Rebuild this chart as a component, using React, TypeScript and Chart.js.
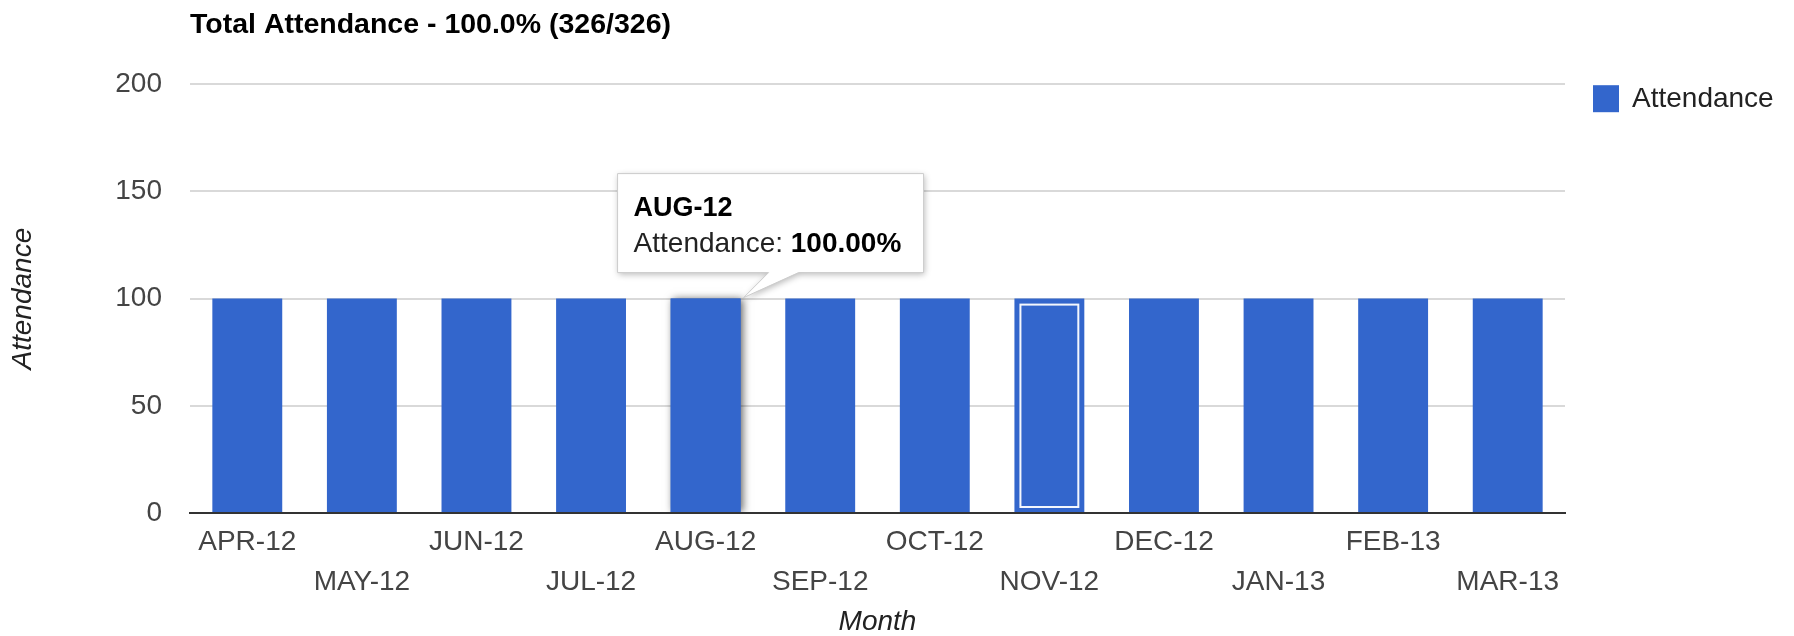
import React, { useEffect, useRef } from 'react';
import { Chart, registerables } from 'chart.js';

Chart.register(...registerables);

const months = ['APR-12', 'MAY-12', 'JUN-12', 'JUL-12', 'AUG-12', 'SEP-12', 'OCT-12', 'NOV-12', 'DEC-12', 'JAN-13', 'FEB-13', 'MAR-13'];
const attendance = [100, 100, 100, 100, 100, 100, 100, 100, 100, 100, 100, 100];
const yTicks = [0, 50, 100, 150, 200];
const seriesLabel = 'Attendance';
const chartTitle = 'Total Attendance - 100.0% (326/326)';
const xTitle = 'Month';
const yTitle = 'Attendance';
const hoverIndex = 4;
const selectedIndex = 7;

const FONT = "'Liberation Sans', Arial, Helvetica, sans-serif";
const BAR = '#3366cc';

function barProps(chart: any, index: number) {
  const el = chart.getDatasetMeta(0).data[index];
  return el.getProps(['x', 'y', 'width', 'base'], true);
}

const hoverShadowPlugin = {
  id: 'hoverShadow',
  beforeDatasetsDraw(chart: any) {
    const { ctx, chartArea } = chart;
    const { x, y, width, base } = barProps(chart, hoverIndex);
    ctx.save();
    ctx.beginPath();
    ctx.rect(chartArea.left, 0, chartArea.right - chartArea.left, chartArea.bottom);
    ctx.clip();
    ctx.shadowColor = 'rgba(0,0,0,0.6)';
    ctx.shadowBlur = 8;
    ctx.shadowOffsetX = 2;
    ctx.shadowOffsetY = 0;
    ctx.fillStyle = BAR;
    ctx.fillRect(x - width / 2, y, width, base - y);
    ctx.restore();
  },
};

const selectedPlugin = {
  id: 'selectedBar',
  afterDatasetsDraw(chart: any) {
    const { ctx } = chart;
    const { x, y, width, base } = barProps(chart, selectedIndex);
    ctx.save();
    ctx.strokeStyle = 'rgba(255,255,255,0.95)';
    ctx.lineWidth = 2;
    ctx.strokeRect(x - width / 2 + 6, y + 6, width - 12, base - y - 11);
    ctx.restore();
  },
};

const sideLegendPlugin = {
  id: 'sideLegend',
  afterDraw(chart: any) {
    const { ctx, chartArea } = chart;
    const ds = chart.data.datasets[0];
    const x = chartArea.right + 28;
    const y = chartArea.top + 1;
    ctx.save();
    ctx.fillStyle = ds.backgroundColor;
    ctx.fillRect(x, y, 26, 27);
    ctx.fillStyle = '#222';
    ctx.font = `28px ${FONT}`;
    ctx.textBaseline = 'middle';
    ctx.textAlign = 'left';
    ctx.fillText(ds.label, x + 39, y + 14);
    ctx.restore();
  },
};

const calloutPlugin = {
  id: 'callout',
  afterDraw(chart: any) {
    const { ctx } = chart;
    const { x, y, width } = barProps(chart, hoverIndex);
    const tipX = x + width / 2 + 3;
    const tipY = y - 1;
    const bx = tipX - 126;
    const by = tipY - 124;
    const bw = 306;
    const bh = 99;
    ctx.save();
    ctx.beginPath();
    ctx.moveTo(bx, by);
    ctx.lineTo(bx + bw, by);
    ctx.lineTo(bx + bw, by + bh);
    ctx.lineTo(tipX + 55, by + bh);
    ctx.lineTo(tipX, tipY);
    ctx.lineTo(tipX + 25, by + bh);
    ctx.lineTo(bx, by + bh);
    ctx.closePath();
    ctx.shadowColor = 'rgba(0,0,0,0.28)';
    ctx.shadowBlur = 6;
    ctx.shadowOffsetX = 1;
    ctx.shadowOffsetY = 2;
    ctx.fillStyle = '#ffffff';
    ctx.fill();
    ctx.shadowColor = 'transparent';
    ctx.strokeStyle = '#cccccc';
    ctx.lineWidth = 1;
    ctx.stroke();

    ctx.textBaseline = 'middle';
    ctx.textAlign = 'left';
    ctx.fillStyle = '#000';
    ctx.font = `bold 27px ${FONT}`;
    ctx.fillText(months[hoverIndex], bx + 16, by + 35);
    const lead = `${seriesLabel}: `;
    ctx.font = `28px ${FONT}`;
    ctx.fillStyle = '#222';
    ctx.fillText(lead, bx + 16, by + 71);
    const w = ctx.measureText(lead).width;
    ctx.font = `bold 28px ${FONT}`;
    ctx.fillStyle = '#000';
    ctx.fillText(`${attendance[hoverIndex].toFixed(2)}%`, bx + 16 + w, by + 71);
    ctx.restore();
  },
};

export default function App() {
  const ref = useRef<HTMLCanvasElement | null>(null);

  useEffect(() => {
    document.body.style.margin = '0';
    if (!ref.current) return;
    const chart = new Chart(ref.current, {
      type: 'bar',
      data: {
        labels: months,
        datasets: [
          {
            label: seriesLabel,
            data: attendance,
            backgroundColor: BAR,
            borderWidth: 0,
            barPercentage: 0.61,
            categoryPercentage: 1,
          },
        ],
      },
      options: {
        responsive: false,
        animation: false,
        events: [],
        layout: { padding: { left: 0, right: 229, top: 0, bottom: 0 } },
        font: { family: FONT },
        plugins: {
          legend: { display: false },
          tooltip: { enabled: false },
          title: {
            display: true,
            text: chartTitle,
            align: 'start',
            fullSize: false,
            color: '#000',
            font: { family: FONT, size: 28.5, weight: 'bold', lineHeight: 1.2 },
            padding: { top: 8, bottom: 42 },
          },
        },
        scales: {
          x: {
            grid: { display: false, drawTicks: false },
            border: { display: true, color: '#333', width: 2, z: 1 },
            afterFit: (scale: any) => {
              scale.height = 123;
            },
            ticks: {
              autoSkip: false,
              maxRotation: 0,
              minRotation: 0,
              padding: 10,
              color: '#444',
              font: { family: FONT, size: 28, lineHeight: 1.4 },
              callback: (_v: any, i: number) => (i % 2 === 0 ? [months[i], ''] : ['', months[i]]),
            },
            title: {
              display: true,
              text: xTitle,
              color: '#222',
              font: { family: FONT, size: 28, style: 'italic', lineHeight: 1 },
              padding: { top: 7, bottom: 0 },
            },
          },
          y: {
            min: yTicks[0],
            max: yTicks[yTicks.length - 1],
            afterBuildTicks: (scale: any) => {
              scale.ticks = yTicks.map((v) => ({ value: v }));
            },
            afterFit: (scale: any) => {
              scale.width = 190;
            },
            grid: { color: '#d9d9d9', lineWidth: 2, drawTicks: false },
            border: { display: false },
            ticks: {
              padding: 28,
              color: '#444',
              font: { family: FONT, size: 28 },
            },
            title: {
              display: true,
              text: yTitle,
              color: '#222',
              font: { family: FONT, size: 28, style: 'italic', lineHeight: 1 },
              padding: { top: 9, bottom: 0 },
            },
          },
        },
      },
      plugins: [hoverShadowPlugin, selectedPlugin, sideLegendPlugin, calloutPlugin],
    } as any);
    return () => chart.destroy();
  }, []);

  return <canvas ref={ref} width={1794} height={636} style={{ display: 'block' }} />;
}
